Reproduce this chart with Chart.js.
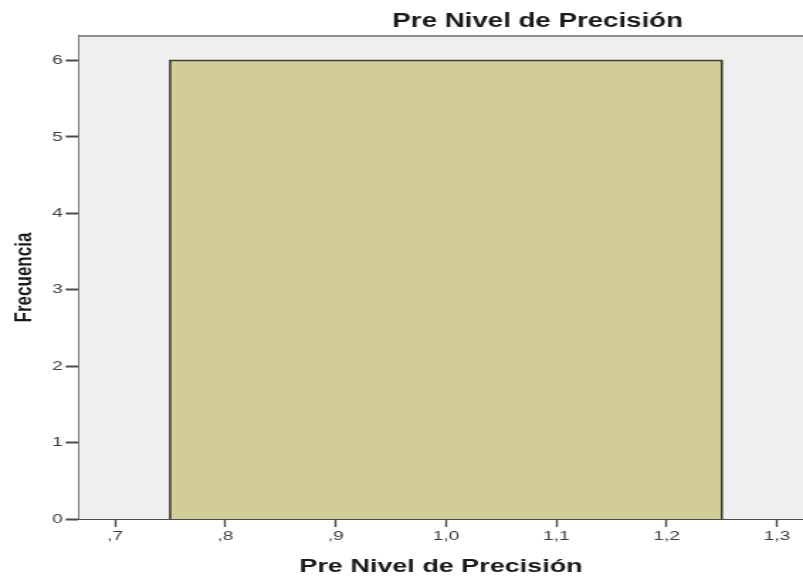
<!DOCTYPE html>
<html>
<head>
<meta charset="utf-8">
<title>Pre Nivel de Precisión</title>
<script src="https://cdn.jsdelivr.net/npm/chart.js@4/dist/chart.umd.min.js"></script>
<style>
  html, body { margin: 0; padding: 0; background: #ffffff; overflow: hidden; }
  /* the chart is drawn narrow and then widened, like the stretched SPSS export */
  #wrap { width: 566px; height: 576px; transform: scaleX(1.41873); transform-origin: 0 0; }
</style>
</head>
<body>
<div id="wrap"><canvas id="hist" width="566" height="576"></canvas></div>
<script>
// Histogram: bin edges and the count in each bin
const binEdges = [0.75, 1.25];
const frequencies = [6];

// Axis ticks
const xTicks = [0.7, 0.8, 0.9, 1.0, 1.1, 1.2, 1.3];
const yTicks = [0, 1, 2, 3, 4, 5, 6];

const chartTitle = 'Pre Nivel de Precisión';
const xTitle = 'Pre Nivel de Precisión';
const yTitle = 'Frecuencia';

const fontFamily = '"Liberation Sans", Arial, sans-serif';

// SPSS style decimal labels: ,7  ,8  1,0 ...
function spssLabel(v) {
    let s = v.toFixed(1).replace('.', ',');
    if (s.startsWith('0')) s = s.slice(1);
    return s;
}

// Outline of the bins as a step path, filled down to zero
const steps = [];
binEdges.slice(0, -1).forEach(function(left, i) {
    const right = binEdges[i + 1];
    const f = frequencies[i];
    steps.push({ x: left, y: 0 }, { x: left, y: f }, { x: right, y: f }, { x: right, y: 0 });
});

// Grey plot background, top frame line and the chart title
const framePlugin = {
    id: 'frame',
    beforeDatasetsDraw(chart) {
        const { ctx, chartArea: a } = chart;
        ctx.save();
        ctx.fillStyle = '#efefef';
        ctx.fillRect(a.left, a.top, a.right - a.left, a.bottom - a.top);
        ctx.restore();
    },
    afterDraw(chart) {
        const { ctx, chartArea: a } = chart;
        ctx.save();
        ctx.strokeStyle = '#8e8e8e';
        ctx.lineWidth = 2;
        ctx.beginPath();
        ctx.moveTo(a.left, a.top);
        ctx.lineTo(a.right, a.top);
        ctx.stroke();

        ctx.fillStyle = '#1a1a1a';
        ctx.font = 'bold 19.5px ' + fontFamily;
        ctx.textAlign = 'center';
        ctx.textBaseline = 'alphabetic';
        ctx.fillText(chartTitle, 379, 27);
        ctx.restore();
    }
};

new Chart(document.getElementById('hist'), {
    type: 'line',
    data: {
        datasets: [{
            data: steps,
            borderColor: '#3c3c30',
            borderWidth: 1.6,
            backgroundColor: '#d2cd96',
            fill: 'origin',
            pointRadius: 0,
            tension: 0
        }]
    },
    plugins: [framePlugin],
    options: {
        responsive: false,
        animation: false,
        devicePixelRatio: 1,
        layout: { padding: { top: 36, left: 0, right: 0, bottom: 0 } },
        plugins: {
            legend: { display: false },
            tooltip: { enabled: false }
        },
        scales: {
            x: {
                type: 'linear',
                min: 0.6674,
                max: 1.3236,
                afterBuildTicks: function(scale) {
                    scale.ticks = xTicks.map(v => ({ value: v }));
                },
                afterFit: function(scale) { scale.height = 57; },
                ticks: {
                    callback: v => spssLabel(v),
                    color: '#404040',
                    font: { family: fontFamily, size: 13.5 },
                    padding: 1,
                    maxRotation: 0
                },
                grid: {
                    drawOnChartArea: false,
                    drawTicks: true,
                    tickLength: 8,
                    tickWidth: 1.4,
                    tickColor: '#4a4a4a'
                },
                border: { display: true, color: '#4a4a4a', width: 2 },
                title: {
                    display: true,
                    text: xTitle,
                    color: '#1a1a1a',
                    font: { family: fontFamily, size: 19, weight: 'bold', lineHeight: 1.0 },
                    padding: { top: 0, bottom: 0 }
                }
            },
            y: {
                min: 0,
                max: 6.32,
                afterBuildTicks: function(scale) {
                    scale.ticks = yTicks.map(v => ({ value: v }));
                },
                afterFit: function(scale) { scale.width = 55.7; },
                ticks: {
                    color: '#404040',
                    font: { family: fontFamily, size: 13.5 },
                    padding: 2
                },
                grid: {
                    drawOnChartArea: false,
                    drawTicks: true,
                    tickLength: 9.4,
                    tickWidth: 2,
                    tickColor: '#4a4a4a'
                },
                border: { display: true, color: '#4a4a4a', width: 1.6 },
                title: {
                    display: true,
                    text: yTitle,
                    color: '#1a1a1a',
                    font: { family: fontFamily, size: 17, weight: 'bold', lineHeight: 1.2 },
                    padding: { top: 7.4, bottom: 0 }
                }
            }
        }
    }
});
</script>
</body>
</html>
